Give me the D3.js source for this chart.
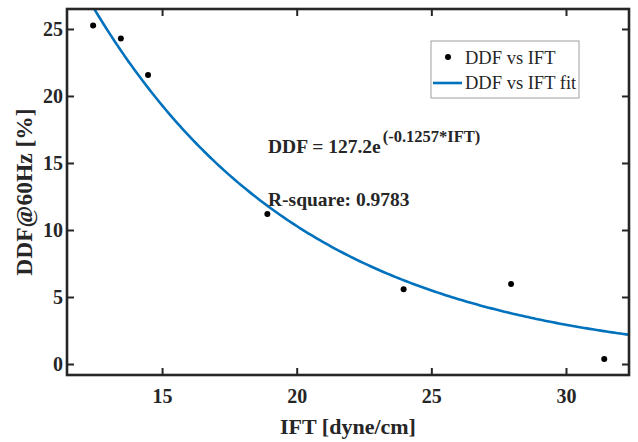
<!DOCTYPE html>
<html>
<head>
<meta charset="utf-8">
<script src="https://cdn.jsdelivr.net/npm/d3@7"></script>
<style>
  html, body { margin: 0; padding: 0; background: #fff; }
  svg { display: block; }
  text { font-family: "Liberation Serif", "Times New Roman", serif; fill: #262626; }
</style>
</head>
<body>
<svg id="chart" width="638" height="442"></svg>
<script>
// Measured interfacial tension (dyne/cm) and dielectric dissipation factor at 60 Hz (%)
const ift = [12.44, 13.47, 14.48, 18.91, 23.97, 27.96, 31.42];
const ddf = [25.25, 24.28, 21.57, 11.19, 5.57, 5.97, 0.37];

// Exponential fit DDF = a * exp(b * IFT)
const fitA = 127.2;
const fitB = -0.1257;
const rSquare = 0.9783;

const xTicks = [15, 20, 25, 30];
const yTicks = [0, 5, 10, 15, 20, 25];
const xDomain = [11.47, 32.34];
const yDomain = [-0.82, 26.49];

const legendLabels = ["DDF vs IFT", "DDF vs IFT fit"];

const svg = d3.select("#chart");
const plot = { left: 67, right: 629, top: 9, bottom: 375 };
const axisColor = "#262626";
const fitColor = "#0072BD";

const x = d3.scaleLinear().domain(xDomain).range([plot.left, plot.right]);
const y = d3.scaleLinear().domain(yDomain).range([plot.bottom, plot.top]);

// Fit curve sampled across the full x range
const fitPts = d3.range(0, 201).map(i => {
  const v = xDomain[0] + (xDomain[1] - xDomain[0]) * i / 200;
  return [v, fitA * Math.exp(fitB * v)];
});

svg.append("clipPath").attr("id", "plotclip")
  .append("rect")
  .attr("x", plot.left).attr("y", plot.top)
  .attr("width", plot.right - plot.left).attr("height", plot.bottom - plot.top);

const g = svg.append("g").attr("clip-path", "url(#plotclip)");

g.append("path")
  .datum(fitPts)
  .attr("fill", "none")
  .attr("stroke", fitColor)
  .attr("stroke-width", 2.6)
  .attr("d", d3.line().x(d => x(d[0])).y(d => y(d[1])));

g.selectAll("circle.pt")
  .data(ift.map((v, i) => [v, ddf[i]]))
  .join("circle")
  .attr("class", "pt")
  .attr("cx", d => x(d[0]))
  .attr("cy", d => y(d[1]))
  .attr("r", 3)
  .attr("fill", "#000");

// Axes: ticks inward, mirrored on the top and right edges
const tickLen = 7;
const fontTicks = "bold 20px 'Liberation Serif'";

function styleAxis(sel) {
  sel.select(".domain").remove();
  sel.selectAll(".tick line").attr("stroke", axisColor).attr("stroke-width", 2);
  sel.selectAll(".tick text").style("font", fontTicks).attr("fill", axisColor);
}

const xAxisB = svg.append("g")
  .attr("transform", `translate(0,${plot.bottom})`)
  .call(d3.axisBottom(x).tickValues(xTicks).tickSize(-tickLen).tickPadding(14).tickFormat(d3.format("d")));
styleAxis(xAxisB);

const xAxisT = svg.append("g")
  .attr("transform", `translate(0,${plot.top})`)
  .call(d3.axisTop(x).tickValues(xTicks).tickSize(-tickLen).tickFormat(""));
styleAxis(xAxisT);

const yAxisL = svg.append("g")
  .attr("transform", `translate(${plot.left},0)`)
  .call(d3.axisLeft(y).tickValues(yTicks).tickSize(-tickLen).tickPadding(4).tickFormat(d3.format("d")));
styleAxis(yAxisL);

const yAxisR = svg.append("g")
  .attr("transform", `translate(${plot.right},0)`)
  .call(d3.axisRight(y).tickValues(yTicks).tickSize(-tickLen).tickFormat(""));
styleAxis(yAxisR);

// Frame
svg.append("rect")
  .attr("x", plot.left).attr("y", plot.top)
  .attr("width", plot.right - plot.left).attr("height", plot.bottom - plot.top)
  .attr("fill", "none").attr("stroke", axisColor).attr("stroke-width", 2.6);

// Axis titles
svg.append("text")
  .attr("x", (plot.left + plot.right) / 2).attr("y", 434)
  .attr("text-anchor", "middle")
  .style("font-weight", "bold").style("font-size", "22px")
  .text("IFT [dyne/cm]");

svg.append("text")
  .attr("transform", `translate(32,${(plot.top + plot.bottom) / 2}) rotate(-90)`)
  .attr("text-anchor", "middle")
  .style("font-weight", "bold").style("font-size", "23.5px")
  .text("DDF@60Hz [%]");

// Fit annotation
const eq = svg.append("text")
  .attr("x", 268).attr("y", 153)
  .style("font-weight", "bold").style("font-size", "19.5px");
eq.append("tspan").text(`DDF = ${fitA}e`);
eq.append("tspan").attr("dx", 2).attr("dy", -11).style("font-size", "16.5px")
  .text(`(${fitB}*IFT)`);

svg.append("text")
  .attr("x", 268).attr("y", 206)
  .style("font-weight", "bold").style("font-size", "19.5px")
  .text(`R-square: ${rSquare}`);

// Legend
const lg = svg.append("g");
lg.append("rect")
  .attr("x", 431).attr("y", 41)
  .attr("width", 148).attr("height", 57)
  .attr("fill", "#fff").attr("stroke", "#a0a0a0").attr("stroke-width", 1);
lg.append("circle").attr("cx", 448).attr("cy", 57).attr("r", 3).attr("fill", "#000");
lg.append("line")
  .attr("x1", 433).attr("x2", 462).attr("y1", 83).attr("y2", 83)
  .attr("stroke", fitColor).attr("stroke-width", 2.6);
lg.selectAll("text.lab")
  .data(legendLabels)
  .join("text")
  .attr("class", "lab")
  .attr("x", 465)
  .attr("y", (d, i) => 64 + i * 25)
  .style("font-size", "18.5px")
  .text(d => d);
</script>
</body>
</html>
